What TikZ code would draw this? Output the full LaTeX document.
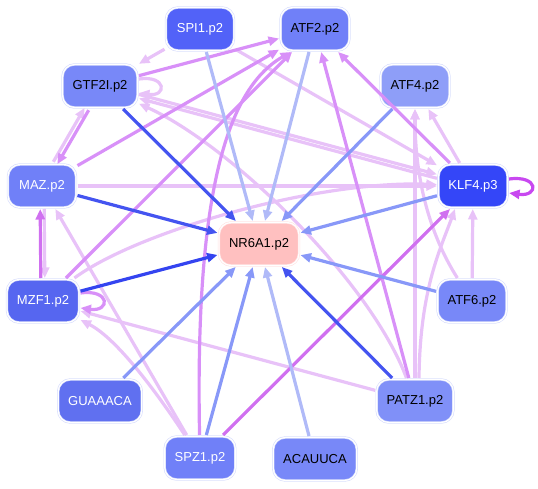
\documentclass[tikz,border=0pt]{standalone}
\usepackage{fontspec}
\setmainfont{Liberation Sans}
\usepackage{tikz}
\usetikzlibrary{arrows.meta,positioning,calc}

\definecolor{cSpi}{HTML}{5262F8}
\definecolor{cAtfB}{HTML}{7080F8}
\definecolor{cGtf}{HTML}{7888F8}
\definecolor{cAtfD}{HTML}{8E9EF8}
\definecolor{cMaz}{HTML}{7080F8}
\definecolor{cKlf}{HTML}{3446F8}
\definecolor{cNr}{HTML}{FFC0C0}
\definecolor{cMzf}{HTML}{5666F0}
\definecolor{cAtfF}{HTML}{7888F8}
\definecolor{cGua}{HTML}{6070F0}
\definecolor{cPatz}{HTML}{8090F8}
\definecolor{cSpz}{HTML}{7080F8}
\definecolor{cAcau}{HTML}{7888F8}
\definecolor{eDark}{HTML}{4454F0}
\definecolor{eDarker}{HTML}{3444F0}
\definecolor{eMid}{HTML}{8898F8}
\definecolor{eLight}{HTML}{B0BAF8}
\definecolor{ePurp}{HTML}{D890F8}
\definecolor{ePurpD}{HTML}{D070F0}
\definecolor{ePale}{HTML}{E8C2F8}
\definecolor{eLoop}{HTML}{C848F0}
\definecolor{rimBlue}{HTML}{D6DCFC}
\definecolor{rimPink}{HTML}{FFE2E2}

\begin{document}
\begin{tikzpicture}[x=1pt, y=-1pt,
  tf/.style={draw=rimBlue, double=white, double distance=1.2pt, line width=0.6pt,
    rounded corners=12pt, minimum width=68pt, minimum height=43pt,
    inner xsep=10pt, outer sep=1.5pt, font=\fontsize{13}{15}\selectfont},
  hub/.style={tf, draw=rimPink, fill=cNr},
  arr/.style={-{Triangle[length=10.5pt,width=9pt]}, line width=3.2pt},
  db/.style={arr, draw=eDark},
  mb/.style={arr, draw=eMid},
  lb/.style={arr, draw=eLight},
  pu/.style={arr, draw=ePurp},
  pl/.style={arr, draw=ePale},
]
  \useasboundingbox (0,0) rectangle (538,489);

  % nodes, ring round the hub
  \node[tf, fill=cSpi, text=white]  (spi1)  at (200,29)  {SPI1.p2};
  \node[tf, fill=cAtfB]             (atf2)  at (315,29)  {ATF2.p2};
  \node[tf, fill=cGtf]              (gtf2i) at (100,86)  {GTF2I.p2};
  \node[tf, fill=cAtfD]             (atf4)  at (415,86)  {ATF4.p2};
  \node[tf, fill=cMaz, text=white]  (maz)   at (42,186)  {MAZ.p2};
  \node[tf, fill=cKlf, text=white]  (klf4)  at (473,186) {KLF4.p3};
  \node[hub]                        (nr6a1) at (259,244) {NR6A1.p2};
  \node[tf, fill=cMzf, text=white]  (mzf1)  at (43,301)  {MZF1.p2};
  \node[tf, fill=cAtfF]             (atf6)  at (472,301) {ATF6.p2};
  \node[tf, fill=cGua, text=white]  (gua)   at (100,401) {GUAAACA};
  \node[tf, fill=cPatz]             (patz1) at (415,401) {PATZ1.p2};
  \node[tf, fill=cSpz, text=white]  (spz1)  at (200,458) {SPZ1.p2};
  \node[tf, fill=cAcau]             (acau)  at (315,459) {ACAUUCA};

  % pale edges
  \draw[pl] (spi1) -- (gtf2i);
  \draw[pl] (spi1) -- (klf4);
  \draw[pl, transform canvas={yshift=2pt}] (gtf2i) -- (klf4);
  \draw[pl, transform canvas={yshift=-2pt}] (klf4) -- (gtf2i);
  \draw[pl] ([yshift=7pt]gtf2i.east) .. controls +(28,-4) and +(28,4) .. ([yshift=-7pt]gtf2i.east);
  \draw[pl, transform canvas={shift={(-2pt,1.2pt)}}] (maz) -- (gtf2i);
  \draw[pl] (maz) -- (klf4);
  \draw[pl, transform canvas={xshift=2pt}] (maz) -- (mzf1);
  \draw[pl] (mzf1) .. controls (140,230) and (320,180) .. (klf4);
  \draw[pl] (spz1) .. controls (165,405) and (120,340) .. (mzf1);
  \draw[pl] (spz1) -- (maz);
  \draw[pl] (patz1) -- (mzf1);
  \draw[pl] (patz1) .. controls (370,280) and (230,145) .. (gtf2i);
  \draw[pl] (patz1) -- (atf4);
  \draw[pl] ([xshift=4pt]patz1.north) .. controls (420,290) and (440,250) .. ([xshift=-18pt]klf4.south);
  \draw[pl] (atf6) .. controls (430,235) and (415,180) .. (atf4);
  \draw[pl] (atf6) -- (klf4);
  \draw[pl] (klf4) -- (atf4);

  % purple edges
  \draw[pu] (gtf2i) -- (atf2);
  \draw[pu, transform canvas={shift={(2pt,-1.2pt)}}] (gtf2i) -- (maz);
  \draw[pu] (maz) -- (atf2);
  \draw[pu, draw=ePurpD, transform canvas={xshift=-2pt}] (mzf1) -- (maz);
  \draw[pu] (mzf1) -- (atf2);
  \draw[pu] ([yshift=8pt]mzf1.east) .. controls +(30,-4) and +(30,4) .. ([yshift=-7pt]mzf1.east);
  \draw[pu] (spz1) .. controls (195,200) and (225,90) .. ([xshift=12pt]atf2.south west);
  \draw[pu] (patz1) -- (atf2);
  \draw[pu] (klf4) -- (atf2);
  \draw[pu, draw=ePurpD] (spz1) -- (klf4);
  \draw[pu, draw=eLoop] ([yshift=7pt]klf4.east) .. controls +(30,-4) and +(30,4) .. ([yshift=-7pt]klf4.east);

  % edges into the hub
  \draw[lb] (spi1) -- (nr6a1);
  \draw[lb] (atf2) -- (nr6a1);
  \draw[lb] (acau) -- (nr6a1);
  \draw[mb] (atf4) -- (nr6a1);
  \draw[mb] (klf4) -- (nr6a1);
  \draw[mb] (atf6) -- (nr6a1);
  \draw[mb] (gua) -- (nr6a1);
  \draw[mb] (spz1) -- (nr6a1);
  \draw[db] (gtf2i) -- (nr6a1);
  \draw[db] (maz) -- (nr6a1);
  \draw[db, draw=eDarker] (mzf1) -- (nr6a1);
  \draw[db] (patz1) -- (nr6a1);
\end{tikzpicture}
\end{document}
